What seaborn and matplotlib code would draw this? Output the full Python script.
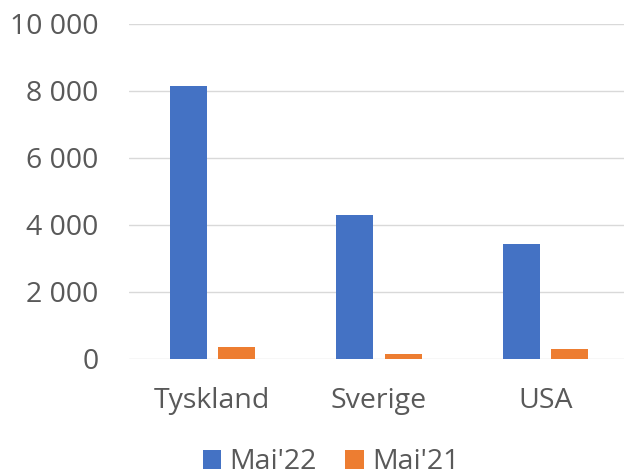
import pandas as pd
import matplotlib.pyplot as plt
import seaborn as sns
from matplotlib.ticker import FuncFormatter

# Data
countries = ['Tyskland', 'Sverige', 'USA']
mai22 = [8140, 4300, 3430]
mai21 = [350, 150, 290]
series = ["Mai'22", "Mai'21"]
colors = ['#4472C4', '#ED7D31']

df = pd.DataFrame({
    'land': countries * 2,
    'verdi': mai22 + mai21,
    'periode': [series[0]] * 3 + [series[1]] * 3,
})

sns.set_style('white')
plt.rcParams['font.family'] = ['Open Sans', 'DejaVu Sans']

fig = plt.figure(figsize=(6.25, 4.76), dpi=100)
ax = fig.add_axes([0.2064, 0.2458, 0.792, 0.7038])

sns.barplot(data=df, x='land', y='verdi', hue='periode', hue_order=series,
            palette=colors, width=0.577, gap=0.23, saturation=1,
            edgecolor='none', legend=True, ax=ax)

ax.set_ylim(0, 10000)
ax.set_xlim(-0.5, 2.47)
ax.set_yticks(range(0, 10001, 2000))
ax.yaxis.set_major_formatter(FuncFormatter(lambda v, p: f"{int(v):,}".replace(',', ' ')))
ax.grid(axis='y', color='#d9d9d9', linewidth=1.0)
ax.set_axisbelow(True)
for s in ax.spines.values():
    s.set_visible(False)
ax.set_xlabel('')
ax.set_ylabel('')
ax.tick_params(axis='y', length=0, pad=22, labelsize=20.5, labelcolor='#595959')
ax.tick_params(axis='x', length=0, pad=20, labelsize=20.5, labelcolor='#595959')

handles, labels = ax.get_legend_handles_labels()
ax.get_legend().remove()
fig.legend(handles, labels, loc='center', bbox_to_anchor=(0.53, 0.029), ncol=2,
           frameon=False, fontsize=20.5, labelcolor='#595959',
           handlelength=0.65, handleheight=0.65, handletextpad=0.3,
           columnspacing=1.0, borderaxespad=0)

fig.savefig('out.png', dpi=100)
